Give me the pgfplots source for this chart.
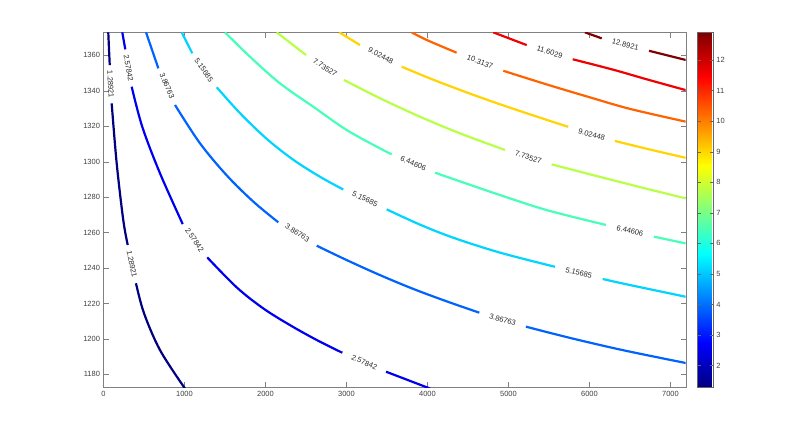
\documentclass[border=0pt]{standalone}
\usepackage{pgfplots}
\pgfplotsset{compat=1.18}
\usepackage{fontspec}
\setmainfont{Liberation Sans}
\definecolor{c1}{rgb}{0,0,0.5}
\definecolor{c2}{rgb}{0,0,0.94}
\definecolor{c3}{rgb}{0,0.39,1}
\definecolor{c4}{rgb}{0,0.83,1}
\definecolor{c5}{rgb}{0.28,1,0.72}
\definecolor{c6}{rgb}{0.72,1,0.28}
\definecolor{c7}{rgb}{1,0.83,0}
\definecolor{c8}{rgb}{1,0.39,0}
\definecolor{c9}{rgb}{0.94,0,0}
\definecolor{c10}{rgb}{0.5,0,0}
\begin{document}
\begin{tikzpicture}[x=1pt,y=1pt]
\path[use as bounding box] (0,0) rectangle (800,435);
\begin{axis}[
  at={(103.5pt,47.7pt)}, anchor=south west,
  scale only axis, width=582.2pt, height=354.6pt,
  xmin=0, xmax=7188, ymin=1172.7, ymax=1372.8,
  xtick={0,1000,...,7000}, ytick={1180,1200,...,1360},
  scaled x ticks=false, scaled y ticks=false,
  /pgf/number format/1000 sep={},
  /pgf/number format/assume math mode=true,
  tick pos=both, tick align=inside, major tick length=5pt,
  axis line style={black!50}, tick style={black!50},
  ticklabel style={font=\fontsize{7.5}{9}\selectfont, text=black!75},
  colormap={mjet}{rgb(0cm)=(0,0,0.5); rgb(1cm)=(0,0,1); rgb(3cm)=(0,1,1); rgb(5cm)=(1,1,0); rgb(7cm)=(1,0,0); rgb(8cm)=(0.5,0,0)},
  point meta min=1.28921, point meta max=12.8921,
  colorbar right,
  colorbar shift/.style={xshift=11.6pt},
  colorbar style={width=15.4pt, ytick={2,3,...,12}, tick align=inside, major tick length=3pt,
    axis line style={black!60}, tick style={black!60},
    yticklabel style={font=\fontsize{7.5}{9}\selectfont, text=black!75},
    /pgf/number format/assume math mode=true},
  every axis plot/.append style={line width=2.2pt, smooth, tension=0.55, no marks},
  clip=true
]
% level 1 : 1.28921
\addplot[c1] coordinates {(59,1373) (68,1363.5) (77,1354.5)};
\addplot[c1] coordinates {(101,1332.9) (163,1299) (244,1267.1) (299,1253)};
\addplot[c1] coordinates {(401,1231.4) (500,1214.5) (700,1193.5) (1006,1172)};
% level 2 : 2.57842
\addplot[c2] coordinates {(232,1373) (269,1363.4)};
\addplot[c2] coordinates {(348,1342.3) (480,1319.5) (698,1293.4) (978,1264.8)};
\addplot[c2] coordinates {(1281,1246) (1644,1229.1) (1973,1217.2) (2302,1207.8) (2632,1199.4) (2948,1192.2)};
\addplot[c2] coordinates {(3488,1181.5) (4031,1172)};
% level 3 : 3.86763
\addplot[c3] coordinates {(525,1373) (677,1352.7)};
\addplot[c3] coordinates {(883,1332) (1191,1310.4) (1521,1292.3) (1849,1277.5) (2158,1265.8)};
\addplot[c3] coordinates {(2632,1252.6) (3002,1244.5) (3414,1236) (3825,1228.2) (4237,1221.2) (4640,1214.8)};
\addplot[c3] coordinates {(5216,1206.9) (5677,1201.5) (6089,1197.0) (6500,1192.8) (7188,1186.4)};
% level 4 : 5.15685
\addplot[c4] coordinates {(965,1373) (1096,1361.2)};
\addplot[c4] coordinates {(1398,1342) (1685,1327.4) (2015,1312.9) (2343,1301.1) (2673,1291.5) (2960,1284.3)};
\addplot[c4] coordinates {(3496,1273.1) (3907,1264.5) (4319,1257.1) (4895,1248.7) (5574,1240.7)};
\addplot[c4] coordinates {(6163,1233.8) (6500,1230.4) (7188,1223.8)};
% level 5 : 6.44606
\addplot[c5] coordinates {(1500,1373) (1809,1359.2) (2179,1344.2) (2590,1331) (3002,1317.9) (3414,1307.5) (3558,1304.2)};
\addplot[c5] coordinates {(4093,1293.8) (4484,1287.6) (4895,1281.2) (5472,1272.7) (6204,1264.3)};
\addplot[c5] coordinates {(6796,1257.7) (7188,1253.9)};
% level 6 : 7.73527
\addplot[c6] coordinates {(2138,1373) (2500,1360.2)};
\addplot[c6] coordinates {(2969,1346.1) (3414,1335.8) (3907,1325.4) (4401,1316) (4957,1306.6)};
\addplot[c6] coordinates {(5533,1298.5) (6089,1291.9) (6630,1285.6) (7188,1279.3)};
% level 7 : 9.02448
\addplot[c7] coordinates {(2911,1373) (3167,1365.8)};
\addplot[c7] coordinates {(3681,1353.6) (4031,1347) (4442,1339.8) (4895,1332.4) (5472,1323.6) (5738,1319.7)};
\addplot[c7] coordinates {(6315,1311.7) (6706,1307.3) (7188,1302.2)};
% level 8 : 10.3137
\addplot[c8] coordinates {(3805,1373) (3990,1368.7) (4360,1361.5)};
\addplot[c8] coordinates {(4936,1351.3) (5472,1343.6) (6006,1336.3) (6500,1329.8) (7188,1322.6)};
% level 9 : 11.6029
\addplot[c9] coordinates {(4812,1373) (5225,1365.8)};
\addplot[c9] coordinates {(5793,1357.8) (6294,1351.9) (6706,1346.5) (7188,1340.4)};
% level 10 : 12.8921
\addplot[c10] coordinates {(5944,1373) (6151,1369.6)};
\addplot[c10] coordinates {(6735,1362.6) (7188,1357.4)};
% labels
\begin{scope}[every node/.style={font=\fontsize{7.5}{9}\selectfont, text=black!85, inner sep=0pt}]
\node[rotate=-87] at (89,1343.7) {1.28921};
\node[rotate=-78] at (350,1242.2) {1.28921};
\node[rotate=-80] at (308,1352.8) {2.57842};
\node[rotate=-56] at (1125,1255.8) {2.57842};
\node[rotate=-24] at (3220,1186.8) {2.57842};
\node[rotate=-67] at (784,1342.8) {3.86763};
\node[rotate=-33] at (2395,1259.8) {3.86763};
\node[rotate=-17] at (4928,1210.8) {3.86763};
\node[rotate=-56] at (1240,1351.7) {5.15685};
\node[rotate=-26] at (3228,1279) {5.15685};
\node[rotate=-14.5] at (5868,1237.2) {5.15685};
\node[rotate=-23] at (3825,1299) {6.44606};
\node[rotate=-14] at (6500,1261) {6.44606};
\node[rotate=-33] at (2735,1353.1) {7.73527};
\node[rotate=-17] at (5245,1302.5) {7.73527};
\node[rotate=-27.5] at (3424,1359.7) {9.02448};
\node[rotate=-15] at (6027,1315.2) {9.02448};
\node[rotate=-21] at (4648,1356.4) {10.3137};
\node[rotate=-17] at (5509,1361.8) {11.6029};
\node[rotate=-14.5] at (6443,1366.1) {12.8921};
\end{scope}
\end{axis}
\end{tikzpicture}
\end{document}
